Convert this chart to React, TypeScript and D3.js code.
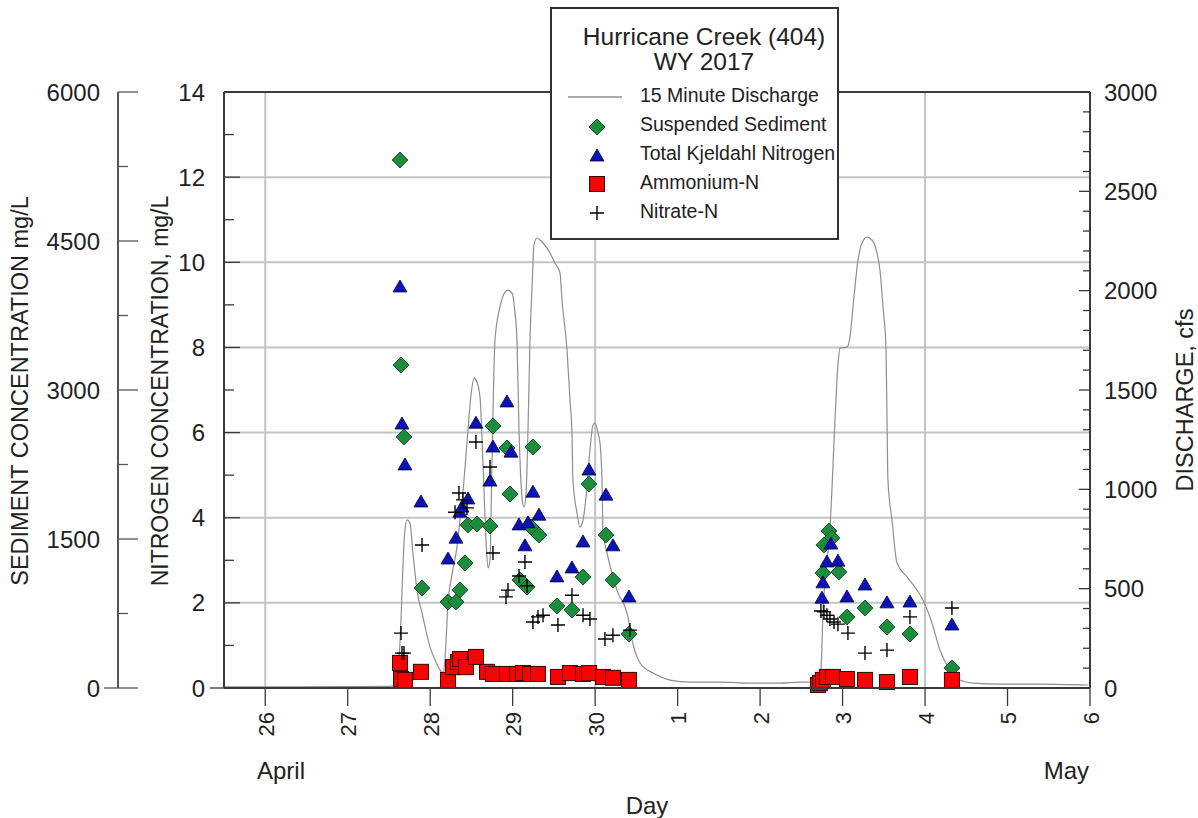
import React from 'react';
import * as d3 from 'd3';

// time t = days since 2017-04-25 00:00
const T0 = new Date(2017, 3, 25).getTime();
const toDate = (t: number) => new Date(T0 + t * 86400000);

// 15 minute discharge, cfs (traced vertices)
const discharge: [number, number][] = [
  [0.5, 6], [1.42, 6], [2.513, 8], [2.585, 20], [2.622, 141], [2.646, 342], [2.67, 619], [2.694, 795],
  [2.719, 846], [2.755, 831], [2.791, 680], [2.84, 493], [2.901, 378], [2.998, 206], [3.07, 131],
  [3.119, 91], [3.155, 75], [3.179, 141], [3.216, 428], [3.264, 569], [3.325, 710], [3.361, 846],
  [3.41, 1047], [3.458, 1299], [3.495, 1475], [3.531, 1560], [3.567, 1540], [3.604, 1465], [3.64, 1133],
  [3.677, 745], [3.701, 604], [3.725, 644], [3.749, 1133], [3.786, 1752], [3.846, 1918], [3.907, 1993],
  [3.943, 2003], [3.992, 1988], [4.028, 1888], [4.052, 1752], [4.077, 1299], [4.113, 961], [4.137, 911],
  [4.161, 971], [4.186, 1299], [4.21, 1752], [4.234, 2003], [4.258, 2230], [4.295, 2265], [4.331, 2255],
  [4.368, 2240], [4.452, 2190], [4.513, 2139], [4.574, 2089], [4.598, 1953], [4.659, 1701], [4.695, 1450],
  [4.719, 1284], [4.731, 1047], [4.78, 881], [4.816, 810], [4.853, 846], [4.901, 1012], [4.937, 1198],
  [4.974, 1324], [4.998, 1334], [5.034, 1284], [5.059, 1233], [5.083, 1047], [5.095, 795], [5.144, 680],
  [5.204, 579], [5.277, 478], [5.362, 408], [5.398, 357], [5.447, 242], [5.544, 126], [5.701, 75],
  [5.907, 40], [6.15, 30], [6.514, 30], [6.877, 25], [7.241, 25], [7.484, 30], [7.641, 30], [7.702, 35],
  [7.738, 91], [7.762, 378], [7.787, 544], [7.847, 795], [7.871, 997], [7.908, 1349], [7.944, 1626],
  [7.968, 1711], [8.053, 1716], [8.09, 1767], [8.126, 1918], [8.187, 2154], [8.235, 2240], [8.296, 2270],
  [8.356, 2255], [8.417, 2190], [8.453, 2104], [8.49, 1918], [8.526, 1716], [8.538, 1384], [8.55, 1047],
  [8.599, 846], [8.66, 629], [8.781, 559], [8.902, 493], [8.975, 443], [9.084, 327], [9.181, 191],
  [9.278, 106], [9.423, 40], [9.581, 25], [9.908, 20], [10.393, 20], [10.975, 15],
];

// Suspended sediment, mg/L
const sediment: [number, number][] = [
  [2.634, 5315], [2.646, 3252], [2.682, 2527], [2.901, 1007], [3.216, 866], [3.313, 866], [3.361, 987],
  [3.422, 1258], [3.458, 1641], [3.567, 1651], [3.725, 1631], [3.761, 2638], [3.931, 2416], [3.968, 1953],
  [4.089, 1087], [4.174, 1017], [4.222, 1621], [4.246, 2426], [4.319, 1540], [4.537, 825], [4.719, 785],
  [4.853, 1117], [4.925, 2054], [5.131, 1540], [5.216, 1087], [5.41, 544],
  [7.835, 1581], [7.871, 1510], [7.774, 1440], [7.762, 1158], [7.956, 1168], [8.053, 715], [8.272, 805],
  [8.538, 614], [8.817, 544], [9.326, 201],
];

// Total Kjeldahl nitrogen, mg/L
const tkn: [number, number][] = [
  [2.634, 9.42], [2.658, 6.2], [2.694, 5.24], [2.888, 4.37], [3.216, 3.03], [3.313, 3.52], [3.361, 4.13],
  [3.386, 4.25], [3.458, 4.44], [3.555, 6.22], [3.725, 4.86], [3.761, 5.66], [3.931, 6.72], [3.98, 5.54],
  [4.077, 3.83], [4.186, 3.88], [4.149, 3.34], [4.246, 4.6], [4.319, 4.06], [4.537, 2.61], [4.719, 2.82],
  [4.853, 3.43], [4.925, 5.12], [5.131, 4.53], [5.216, 3.34], [5.41, 2.14],
  [7.859, 3.38], [7.81, 2.96], [7.944, 2.98], [7.762, 2.47], [7.75, 2.11], [8.053, 2.14], [8.272, 2.42],
  [8.538, 2.0], [8.817, 2.02], [9.326, 1.48],
];

// Ammonium-N, mg/L
const ammonium: [number, number][] = [
  [2.634, 0.59], [2.646, 0.21], [2.694, 0.19], [2.888, 0.38], [3.216, 0.19], [3.276, 0.49], [3.337, 0.61],
  [3.361, 0.68], [3.434, 0.49], [3.555, 0.73], [3.689, 0.38], [3.761, 0.33], [3.931, 0.33], [4.052, 0.33],
  [4.125, 0.35], [4.21, 0.33], [4.307, 0.33], [4.549, 0.26], [4.695, 0.35], [4.853, 0.33], [4.925, 0.35],
  [5.095, 0.26], [5.216, 0.24], [5.41, 0.19],
  [7.702, 0.07], [7.726, 0.12], [7.762, 0.19], [7.81, 0.26], [7.884, 0.26], [8.053, 0.21], [8.272, 0.19],
  [8.538, 0.14], [8.817, 0.26], [9.326, 0.19],
];

// Nitrate-N, mg/L
const nitrate: [number, number][] = [
  [2.646, 1.29], [2.658, 0.82], [2.682, 0.82], [2.901, 3.36], [3.301, 4.13], [3.349, 4.58], [3.398, 4.42],
  [3.446, 4.23], [3.555, 5.78], [3.725, 5.19], [3.761, 3.17], [3.919, 2.14], [3.943, 2.3], [4.077, 2.63],
  [4.149, 2.96], [4.174, 2.4], [4.246, 1.55], [4.307, 1.67], [4.368, 1.71], [4.549, 1.48], [4.719, 2.18],
  [4.853, 1.71], [4.937, 1.62], [5.119, 1.15], [5.216, 1.24], [5.422, 1.36],
  [7.738, 1.81], [7.774, 1.79], [7.81, 1.71], [7.847, 1.62], [7.896, 1.55], [7.944, 1.5], [8.065, 1.29],
  [8.272, 0.82], [8.538, 0.89], [8.817, 1.67], [9.326, 1.88],
];

const sedimentTicks = [0, 1500, 3000, 4500, 6000];
const nitrogenTicks = [0, 2, 4, 6, 8, 10, 12, 14];
const dischargeTicks = [0, 500, 1000, 1500, 2000, 2500, 3000];
const dayTickT = [1, 2, 3, 4, 5, 6, 7, 8, 9, 10, 11];
const dayLabels = ['26', '27', '28', '29', '30', '1', '2', '3', '4', '5', '6'];
const gridDayT = [1, 5, 9];
const nitrogenGrid = [2, 4, 6, 8, 10, 12];

const FONT = "'Liberation Sans', Arial, Helvetica, sans-serif";
const L = 224, R = 1090, T = 92, B = 688;

const diamond = 'M0,-8L8,0L0,8L-8,0Z';
const triangle = 'M0,-7L7,5L-7,5Z';
const plus = 'M-7,0H7M0,-7V7';

const GREEN = '#1b8e3d';
const BLUE = '#0a12b8';
const RED = '#ff0000';

export default function App() {
  const x = d3.scaleTime().domain([toDate(0.5), toDate(11)]).range([L, R]);
  const yN = d3.scaleLinear().domain([0, 14]).range([B, T]);
  const yS = d3.scaleLinear().domain([0, 6000]).range([B, T]);
  const yQ = d3.scaleLinear().domain([0, 3000]).range([B, T]);

  const line = d3
    .line<[number, number]>()
    .x((d) => x(toDate(d[0])))
    .y((d) => yQ(d[1]))
    .curve(d3.curveMonotoneX);

  const SX = 118;
  const axisColor = '#3a3a3a';
  const gridColor = '#c4c4c4';

  return (
    <svg
      width={1198}
      height={818}
      style={{ position: 'absolute', left: 0, top: 0, background: '#fff' }}
      fontFamily={FONT}
    >
      <rect x={0} y={0} width={1198} height={818} fill="#fff" />
      {/* grid */}
      {nitrogenGrid.map((v) => (
        <line key={'hg' + v} x1={L} x2={R} y1={yN(v)} y2={yN(v)} stroke={gridColor} strokeWidth={2} />
      ))}
      {gridDayT.map((t) => (
        <line key={'vg' + t} x1={x(toDate(t))} x2={x(toDate(t))} y1={T} y2={B} stroke={gridColor} strokeWidth={2} />
      ))}

      {/* discharge */}
      <path d={line(discharge) || ''} fill="none" stroke="#8f8f8f" strokeWidth={1.2} />

      {/* markers */}
      {sediment.map((d, i) => (
        <path key={'s' + i} d={diamond} transform={`translate(${x(toDate(d[0]))},${yS(d[1])})`} fill={GREEN} stroke="#0b3316" strokeWidth={0.8} />
      ))}
      {tkn.map((d, i) => (
        <path key={'t' + i} d={triangle} transform={`translate(${x(toDate(d[0]))},${yN(d[1])})`} fill={BLUE} stroke="#000033" strokeWidth={0.8} />
      ))}
      {ammonium.map((d, i) => (
        <rect key={'a' + i} x={x(toDate(d[0])) - 7.5} y={yN(d[1]) - 7.5} width={15} height={15} fill={RED} stroke="#3a0000" strokeWidth={1} />
      ))}
      {nitrate.map((d, i) => (
        <path key={'n' + i} d={plus} transform={`translate(${x(toDate(d[0]))},${yN(d[1])})`} fill="none" stroke="#000" strokeWidth={1.4} />
      ))}

      {/* frame */}
      <line x1={L} x2={R} y1={T} y2={T} stroke={axisColor} strokeWidth={2} />
      <line x1={L} x2={R} y1={B} y2={B} stroke={axisColor} strokeWidth={2} />
      <line x1={L} x2={L} y1={T} y2={B} stroke={axisColor} strokeWidth={2} />
      <line x1={R} x2={R} y1={T} y2={B} stroke={axisColor} strokeWidth={2} />

      {/* nitrogen axis ticks */}
      {d3.range(0, 15, 1).map((v) => (
        <line key={'nt' + v} x1={L} x2={L + (v % 2 === 0 ? 16 : 10)} y1={yN(v)} y2={yN(v)} stroke={axisColor} strokeWidth={1.3} />
      ))}
      <line x1={L - 14} x2={L} y1={B} y2={B} stroke={axisColor} strokeWidth={1.3} />
      {nitrogenTicks.map((v) => (
        <text key={'nl' + v} x={205} y={yN(v)} dy="0.36em" textAnchor="end" fontSize={24} fill="#222">
          {v}
        </text>
      ))}

      {/* sediment axis */}
      <line x1={SX} x2={SX} y1={T} y2={B} stroke="#555" strokeWidth={2} />
      {d3.range(0, 6001, 750).map((v) => (
        <line key={'st' + v} x1={SX} x2={SX + (v % 1500 === 0 ? 20 : 10)} y1={yS(v)} y2={yS(v)} stroke="#555" strokeWidth={1.3} />
      ))}
      <line x1={SX - 14} x2={SX} y1={B} y2={B} stroke="#555" strokeWidth={1.3} />
      {sedimentTicks.map((v) => (
        <text key={'sl' + v} x={100} y={yS(v)} dy="0.36em" textAnchor="end" fontSize={24} fill="#222">
          {v}
        </text>
      ))}

      {/* discharge axis */}
      {d3.range(0, 3001, 100).map((v) => (
        <line key={'qt' + v} x1={R - (v % 500 === 0 ? 11 : 7)} x2={R} y1={yQ(v)} y2={yQ(v)} stroke={axisColor} strokeWidth={1.3} />
      ))}
      {dischargeTicks.map((v) => (
        <text key={'ql' + v} x={1104} y={yQ(v)} dy="0.36em" textAnchor="start" fontSize={24} fill="#222">
          {v}
        </text>
      ))}

      {/* x axis ticks */}
      {dayTickT.map((t, i) => {
        const px = x(toDate(t));
        return (
          <g key={'xt' + t}>
            <line x1={px} x2={px} y1={B} y2={B + 18} stroke={axisColor} strokeWidth={1.3} />
            <text transform={`translate(${px + 8.5},${B + 24}) rotate(-90)`} textAnchor="end" fontSize={22} fill="#222">
              {dayLabels[i]}
            </text>
          </g>
        );
      })}
      <text x={257} y={779} fontSize={24} fill="#222">April</text>
      <text x={1089} y={779} textAnchor="end" fontSize={24} fill="#222">May</text>
      <text x={647} y={814} textAnchor="middle" fontSize={24} fill="#222">Day</text>

      {/* axis titles */}
      <text transform={`translate(28,391) rotate(-90)`} textAnchor="middle" fontSize={23.5} fill="#222">
        SEDIMENT CONCENTRATION mg/L
      </text>
      <text transform={`translate(168,391) rotate(-90)`} textAnchor="middle" fontSize={23} fill="#222">
        NITROGEN CONCENTRATION, mg/L
      </text>
      <text transform={`translate(1193,400) rotate(-90)`} textAnchor="middle" fontSize={23.5} fill="#222">
        DISCHARGE, cfs
      </text>

      {/* legend */}
      <rect x={551} y={8} width={287} height={231} fill="#fff" stroke="#333" strokeWidth={2} />
      <text x={704} y={45} textAnchor="middle" fontSize={24.5} fill="#222">Hurricane Creek (404)</text>
      <text x={704} y={70} textAnchor="middle" fontSize={24.5} fill="#222">WY 2017</text>
      <line x1={568} x2={622} y1={97} y2={97} stroke="#8f8f8f" strokeWidth={1.3} />
      <text x={640} y={102} fontSize={19.5} fill="#222">15 Minute Discharge</text>
      <path d={diamond} transform="translate(597,127)" fill={GREEN} stroke="#0b3316" strokeWidth={0.8} />
      <text x={640} y={131} fontSize={19.5} fill="#222">Suspended Sediment</text>
      <path d={triangle} transform="translate(597,156)" fill={BLUE} stroke="#000033" strokeWidth={0.8} />
      <text x={640} y={160} fontSize={19.5} fill="#222">Total Kjeldahl Nitrogen</text>
      <rect x={589.5} y={176.5} width={15} height={15} fill={RED} stroke="#3a0000" strokeWidth={1} />
      <text x={640} y={189} fontSize={19.5} fill="#222">Ammonium-N</text>
      <path d={plus} transform="translate(597,213)" fill="none" stroke="#000" strokeWidth={1.4} />
      <text x={640} y={218} fontSize={19.5} fill="#222">Nitrate-N</text>
    </svg>
  );
}
